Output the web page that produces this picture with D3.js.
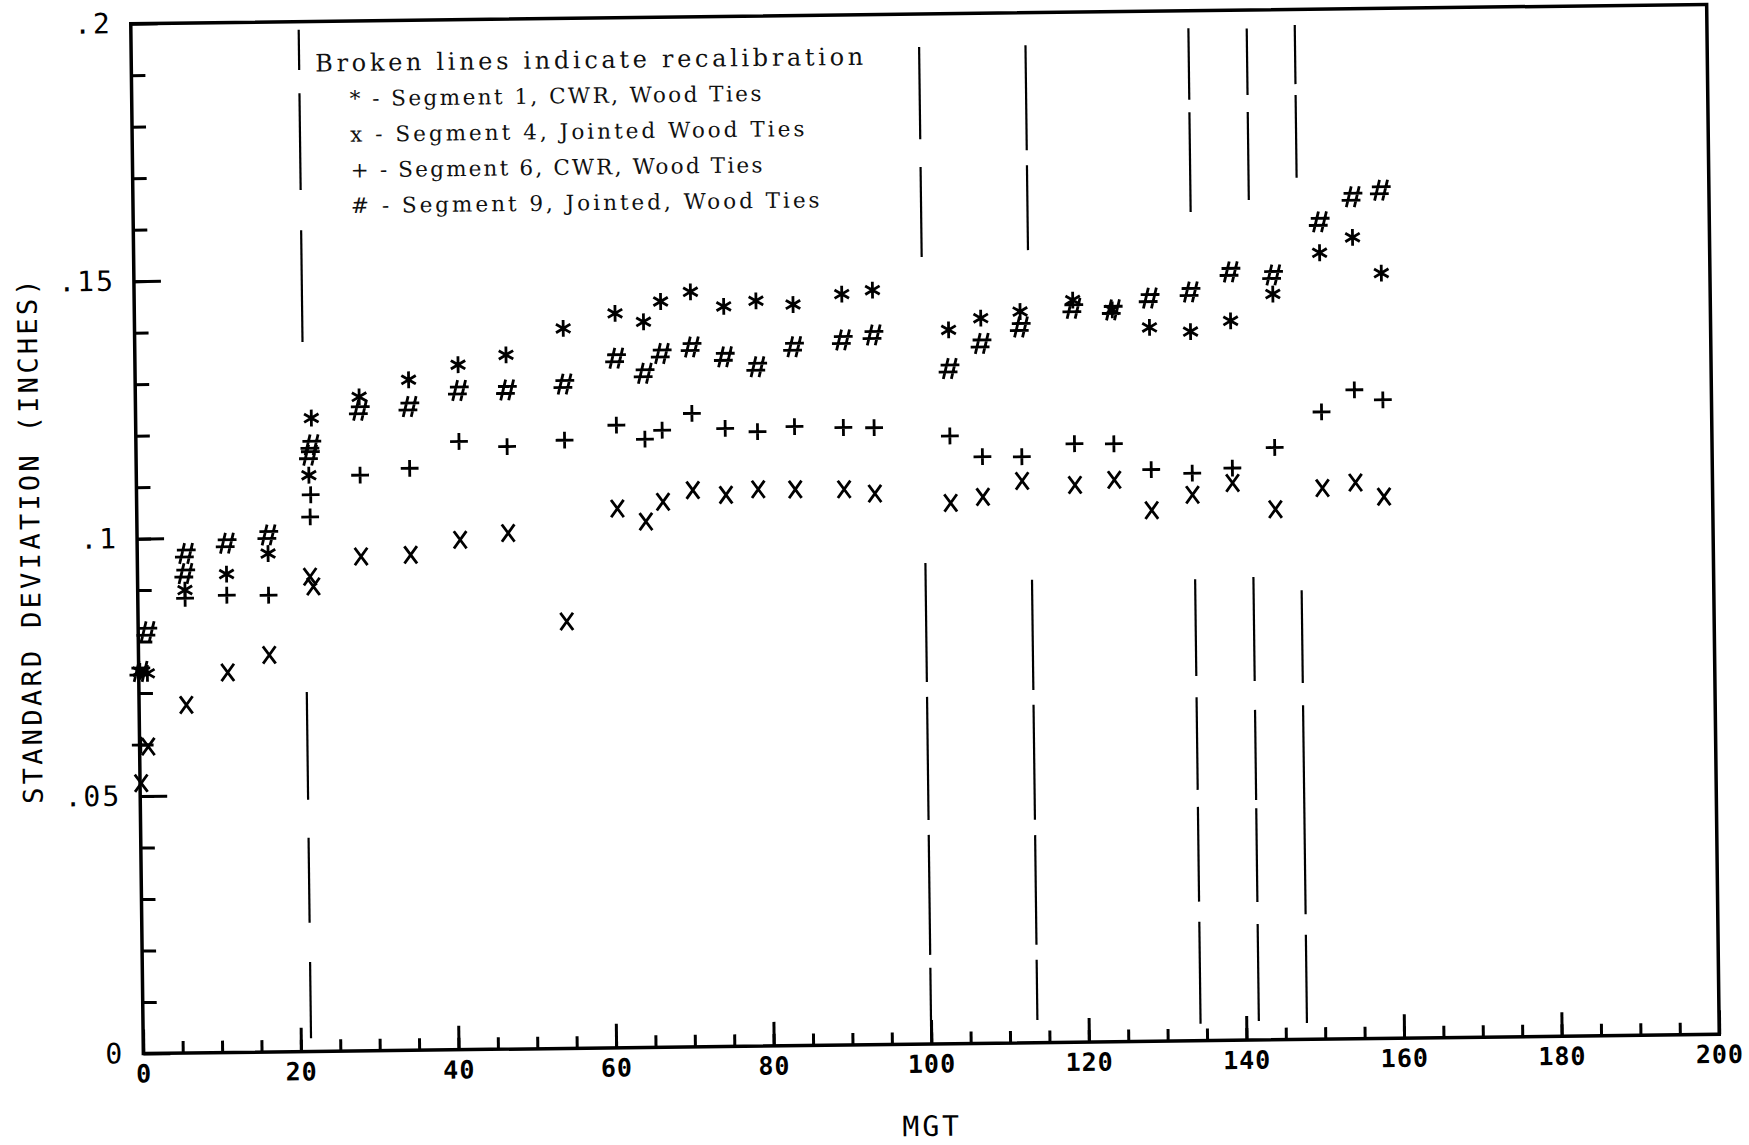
<!DOCTYPE html>
<html>
<head>
<meta charset="utf-8">
<script src="https://cdn.jsdelivr.net/npm/d3@7/dist/d3.min.js"></script>
<style>
  body { margin: 0; background: #ffffff; }
</style>
</head>
<body>
<div id="chart"></div>
<script>
// Standard deviation (inches) against MGT, one array per track segment: [MGT, sd]
const seg1 = [
  [0.15, .0742], [1.1, .0738], [6.0, .0899], [11.3, .0929], [16.6, .0968],
  [21.9, .1119], [22.3, .1230], [28.4, .1270], [34.7, .1302], [41.0, .1330],
  [47.1, .1348], [54.4, .1398], [61.0, .1426], [64.6, .1409], [66.8, .1448],
  [70.6, .1466], [74.8, .1437], [78.9, .1447], [83.6, .1439], [89.8, .1458],
  [93.7, .1465], [103.3, .1386], [107.4, .1408], [112.4, .1420], [119.1, .1441],
  [124.1, .1421], [128.8, .1386], [134.0, .1377], [139.1, .1397], [144.5, .1448],
  [150.5, .1527], [154.7, .1556], [158.3, .1486]
];
const seg4 = [
  [0.15, .0525], [1.1, .0596], [6.0, .0676], [11.3, .0738], [16.6, .0771],
  [21.9, .0922], [22.3, .0903], [28.4, .0960], [34.7, .0962], [41.0, .0990],
  [47.1, .1002], [54.4, .0829], [61.0, .1047], [64.6, .1021], [66.8, .1059],
  [70.6, .1081], [74.8, .1071], [78.9, .1081], [83.6, .1080], [89.8, .1079],
  [93.7, .1070], [103.3, .1050], [107.4, .1061], [112.4, .1091], [119.1, .1082],
  [124.1, .1091], [128.8, .1031], [134.0, .1060], [139.1, .1082], [144.5, .1030],
  [150.5, .1070], [154.7, .1080], [158.3, .1052]
];
const seg6 = [
  [0.15, .0599], [6.0, .0883], [11.3, .0888], [16.6, .0887], [22.0, .1038],
  [22.1, .1081], [28.4, .1118], [34.7, .1130], [41.0, .1181], [47.1, .1170],
  [54.4, .1181], [61.0, .1209], [64.6, .1181], [66.8, .1198], [70.6, .1230],
  [74.8, .1200], [78.9, .1193], [83.6, .1202], [89.8, .1199], [93.7, .1198],
  [103.3, .1180], [107.4, .1139], [112.4, .1138], [119.1, .1162], [124.1, .1161],
  [128.8, .1110], [134.0, .1102], [139.1, .1111], [144.5, .1150], [150.5, .1218],
  [154.7, .1260], [158.3, .1240]
];
const seg9 = [
  [0.15, .0742], [1.1, .0819], [6.0, .0931], [6.1, .0970], [11.3, .0989],
  [16.6, .1004], [22.0, .1158], [22.2, .1178], [28.4, .1244], [34.7, .1250],
  [41.0, .1280], [47.1, .1280], [54.4, .1290], [61.0, .1339], [64.6, .1309],
  [66.8, .1347], [70.6, .1359], [74.8, .1339], [78.9, .1319], [83.6, .1357],
  [89.8, .1369], [93.7, .1378], [103.3, .1311], [107.4, .1359], [112.4, .1390],
  [119.1, .1425], [124.1, .1421], [128.8, .1443], [134.0, .1454], [139.1, .1492],
  [144.5, .1485], [150.5, .1587], [154.7, .1635], [158.3, .1647]
];

// Recalibration points (MGT) and the visible pieces of each broken line (sd ranges)
const recalMGT = [21.3, 100.0, 113.5, 134.2, 141.6, 147.7];
const recalPieces = [
  [[.1906, .1984], [.1673, .1861], [.1378, .1595], [.0489, .0698], [.0250, .0415], [.0026, .0174]],
  [[.1757, .1936], [.1528, .1703], [.0703, .0934], [.0435, .0674], [.0173, .0406], [.0016, .0148]],
  [[.1733, .1937], [.1539, .1704], [.0685, .0899], [.0433, .0656], [.0190, .0403], [.0044, .0161]],
  [[.1827, .1966], [.1609, .1803], [.0708, .0896], [.0487, .0667], [.0270, .0454], [.0033, .0231]],
  [[.1835, .1964], [.1631, .1802], [.0697, .0899], [.0466, .0641], [.0268, .0450], [.0037, .0225]],
  [[.1855, .1970], [.1673, .1834], [.0692, .0872], [.0243, .0649], [.0032, .0203]]
];

// Axis ticks and labels
const xMajorTicks = [0, 20, 40, 60, 80, 100, 120, 140, 160, 180, 200];
const xMinorTicks = d3.range(5, 200, 5);
const yMajorTicks = [0, 0.05, 0.1, 0.15, 0.2];
const yTickLabels = ["0", ".05", ".1", ".15", ".2"];
const yMinorTicks = d3.range(1, 20).map(i => i / 100);

const legendTitle = "Broken lines indicate recalibration";
const legendLines = [
  "* - Segment 1, CWR, Wood Ties",
  "x - Segment 4, Jointed Wood Ties",
  "+ - Segment 6, CWR, Wood Ties",
  "# - Segment 9, Jointed, Wood Ties"
];

const config = {
  width: 1749,
  height: 1145,
  plot: { left: 137, top: 14, width: 1576, height: 1030 },
  skew: -0.7,            // the scanned page sits a little rotated
  plotterFont: "'DejaVu Sans Mono', monospace",
  typeFont: "'DejaVu Serif', 'Liberation Serif', serif"
};

// Marker glyphs drawn as strokes, like the pen plotter did
const markerPath = {
  star: "M0,-7V7M-6,-3.5L6,3.5M-6,3.5L6,-3.5",
  cross: "M-5.5,-7.5L5.5,7.5M-5.5,7.5L5.5,-7.5",
  plus: "M-7.5,0H7.5M0,-7V7",
  hash: "M-5.5,9L-1,-9M2.5,9L7,-9M-7,-3.5H9M-9,3.5H7"
};

const series = [
  { data: seg1, marker: "star" },
  { data: seg4, marker: "cross" },
  { data: seg6, marker: "plus" },
  { data: seg9, marker: "hash" }
];

const p = config.plot;
const cx = p.left + p.width / 2, cy = p.top + p.height / 2;

const x = d3.scaleLinear().domain([0, 200]).range([p.left, p.left + p.width]);
const y = d3.scaleLinear().domain([0, 0.2]).range([p.top + p.height, p.top]);

const svg = d3.select("#chart").append("svg")
  .attr("width", config.width)
  .attr("height", config.height)
  .style("display", "block")
  .style("background", "#ffffff");

const g = svg.append("g")
  .attr("transform", `rotate(${config.skew},${cx},${cy})`);

// Frame
g.append("rect")
  .attr("x", p.left)
  .attr("y", p.top)
  .attr("width", p.width)
  .attr("height", p.height)
  .attr("fill", "none")
  .attr("stroke", "#000")
  .attr("stroke-width", 3.5);

// x axis: minor and major ticks point inward
g.append("g")
  .attr("transform", `translate(0,${p.top + p.height})`)
  .call(d3.axisBottom(x).tickValues(xMinorTicks).tickSize(-12).tickFormat(""))
  .call(a => a.select(".domain").remove())
  .selectAll("line").attr("stroke-width", 3);

const xAxis = g.append("g")
  .attr("transform", `translate(0,${p.top + p.height})`)
  .call(d3.axisBottom(x).tickValues(xMajorTicks).tickSize(-24).tickPadding(11).tickFormat(d3.format("d")))
  .call(a => a.select(".domain").remove());
xAxis.selectAll("line").attr("stroke-width", 3);
xAxis.selectAll("text")
  .attr("font-family", config.plotterFont)
  .attr("font-size", 25)
  .attr("font-weight", "bold")
  .attr("letter-spacing", 1)
  .attr("fill", "#000");

// y axis
g.append("g")
  .attr("transform", `translate(${p.left},0)`)
  .call(d3.axisLeft(y).tickValues(yMinorTicks).tickSize(-14).tickFormat(""))
  .call(a => a.select(".domain").remove())
  .selectAll("line").attr("stroke-width", 3);

const yAxis = g.append("g")
  .attr("transform", `translate(${p.left},0)`)
  .call(d3.axisLeft(y).tickValues(yMajorTicks).tickSize(-27).tickPadding(19)
    .tickFormat((d, i) => yTickLabels[i]))
  .call(a => a.select(".domain").remove());
yAxis.selectAll("line").attr("stroke-width", 3);
yAxis.selectAll("text")
  .attr("font-family", config.plotterFont)
  .attr("font-size", 28)
  .attr("letter-spacing", 2)
  .attr("fill", "#000");

// Axis titles
g.append("text")
  .attr("transform", `translate(30,${cy}) rotate(-90)`)
  .attr("text-anchor", "middle")
  .attr("dominant-baseline", "central")
  .attr("font-family", config.plotterFont)
  .attr("font-size", 27)
  .attr("letter-spacing", 3.3)
  .text("STANDARD DEVIATION (INCHES)");

g.append("text")
  .attr("x", cx)
  .attr("y", 1136)
  .attr("text-anchor", "middle")
  .attr("font-family", config.plotterFont)
  .attr("font-size", 28)
  .attr("letter-spacing", 3)
  .text("MGT");

// Broken recalibration lines
recalMGT.forEach((m, i) => {
  g.append("g")
    .selectAll("line")
    .data(recalPieces[i])
    .join("line")
    .attr("x1", x(m))
    .attr("x2", x(m))
    .attr("y1", d => y(d[0]))
    .attr("y2", d => y(d[1]))
    .attr("stroke", "#000")
    .attr("stroke-width", 2.2);
});

// Data markers
series.forEach(s => {
  g.append("g")
    .selectAll("path")
    .data(s.data)
    .join("path")
    .attr("transform", d => `translate(${x(d[0])},${y(d[1])})`)
    .attr("d", markerPath[s.marker])
    .attr("fill", "none")
    .attr("stroke", "#000")
    .attr("stroke-width", 2.8)
    .attr("stroke-linecap", "square");
});

// Legend: typewritten, so stretch each line to its typed width
const legend = g.append("g")
  .attr("font-family", config.typeFont)
  .attr("font-weight", 300)
  .attr("fill", "#111");

legend.append("text")
  .attr("x", 321)
  .attr("y", 64)
  .attr("font-size", 24)
  .attr("textLength", 548)
  .attr("lengthAdjust", "spacing")
  .text(legendTitle);

legend.selectAll(".legend-row")
  .data(legendLines)
  .join("text")
  .attr("class", "legend-row")
  .attr("x", 355)
  .attr("y", (d, i) => 99 + i * 35.7)
  .attr("font-size", 21.5)
  .attr("textLength", d => d.length * 14.2)
  .attr("lengthAdjust", "spacing")
  .attr("xml:space", "preserve")
  .text(d => d);
</script>
</body>
</html>
